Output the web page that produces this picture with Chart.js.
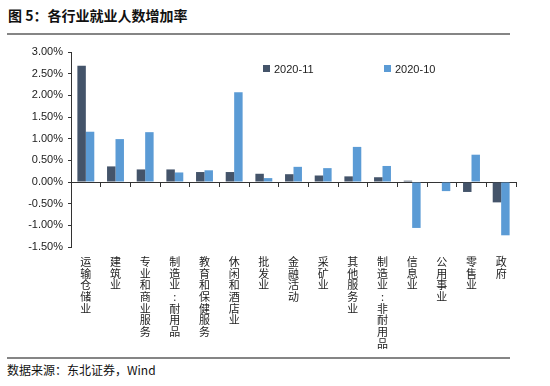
<!DOCTYPE html>
<html>
<head>
<meta charset="utf-8">
<script src="https://cdn.jsdelivr.net/npm/chart.js@4"></script>
<style>
  body { margin: 0; width: 550px; height: 386px; background: #fff; position: relative; overflow: hidden; font-family: "Noto Sans CJK SC", sans-serif; }
  .title { position: absolute; left: 8px; top: 5px; font-size: 14px; font-weight: bold; color: #111; line-height: 20px; }
  .rule { position: absolute; left: 7px; width: 503px; height: 2px; background: #858585; }
  .source { position: absolute; left: 7px; top: 362px; font-size: 12px; color: #111; line-height: 16px; }
  #wrap { position: absolute; left: 0; top: 40px; width: 550px; height: 316px; }
  .legend { position: absolute; top: 62px; font: 11px "Liberation Sans", sans-serif; color: #222; line-height: 14px; }
  .legend span.box { display: inline-block; width: 7px; height: 7px; margin-right: 4px; vertical-align: 1px; }
</style>
</head>
<body>
<div class="title">图 5：各行业就业人数增加率</div>
<div class="rule" style="top:33px"></div>
<div id="wrap"><canvas id="c"></canvas></div>
<div id="legend"></div>
<div class="rule" style="top:357px"></div>
<div class="source">数据来源：东北证券，Wind</div>
<script>
const categories = ['运输仓储业', '建筑业', '专业和商业服务', '制造业:耐用品', '教育和保健服务', '休闲和酒店业', '批发业', '金融活动', '采矿业', '其他服务业', '制造业:非耐用品', '信息业', '公用事业', '零售业', '政府'];
const nov2020 = [2.68, 0.36, 0.29, 0.29, 0.23, 0.23, 0.19, 0.18, 0.15, 0.13, 0.11, 0.03, -0.01, -0.23, -0.47];
const oct2020 = [1.16, 0.99, 1.15, 0.22, 0.27, 2.07, 0.09, 0.35, 0.32, 0.81, 0.37, -1.06, -0.21, 0.63, -1.23];
const seriesNames = ['2020-11', '2020-10'];
const seriesColors = ['#44546A', '#5B9BD5'];
const legendX = [263, 384];

// vertical labels: one character per line
const vertLabels = categories.map(s => s.split(''));

const ctx = document.getElementById('c').getContext('2d');
new Chart(ctx, {
    type: 'bar',
    data: {
        labels: vertLabels,
        datasets: [
            { label: seriesNames[0], data: nov2020, backgroundColor: seriesColors[0] },
            { label: seriesNames[1], data: oct2020, backgroundColor: seriesColors[1] }
        ]
    },
    options: {
        responsive: true,
        maintainAspectRatio: false,
        animation: false,
        layout: { padding: { top: 12, right: 34, left: 0, bottom: 0 } },
        plugins: { legend: { display: false }, tooltip: { enabled: false } },
        datasets: { bar: { categoryPercentage: 0.57, barPercentage: 1 } },
        scales: {
            x: {
                grid: { display: false, drawTicks: false },
                border: { display: false },
                ticks: {
                    autoSkip: false, maxRotation: 0, minRotation: 0, padding: 9,
                    color: '#222',
                    font: { family: '"Noto Sans CJK SC"', size: 11, lineHeight: 1.06 }
                },
                afterFit: s => { s.height = 109; }
            },
            x2: {
                type: 'category',
                position: { y: 0 },
                offset: true,
                grid: { offset: true, drawOnChartArea: false, drawTicks: true, tickLength: 4, color: '#333' },
                border: { display: true, color: '#333' },
                ticks: { display: false }
            },
            y: {
                min: -1.5, max: 3,
                ticks: {
                    stepSize: 0.5, padding: 5, color: '#222',
                    font: { family: '"Liberation Sans"', size: 11 },
                    callback: v => v.toFixed(2) + '%'
                },
                grid: { drawOnChartArea: false, drawTicks: true, tickLength: 3, color: '#333' },
                border: { display: true, color: '#333' },
                afterFit: s => { s.width = 71; }
            }
        }
    }
});

// legend
const lg = document.getElementById('legend');
seriesNames.forEach((name, i) => {
    const d = document.createElement('div');
    d.className = 'legend';
    d.style.left = legendX[i] + 'px';
    d.innerHTML = '<span class="box" style="background:' + seriesColors[i] + '"></span>' + name;
    lg.appendChild(d);
});
</script>
</body>
</html>
